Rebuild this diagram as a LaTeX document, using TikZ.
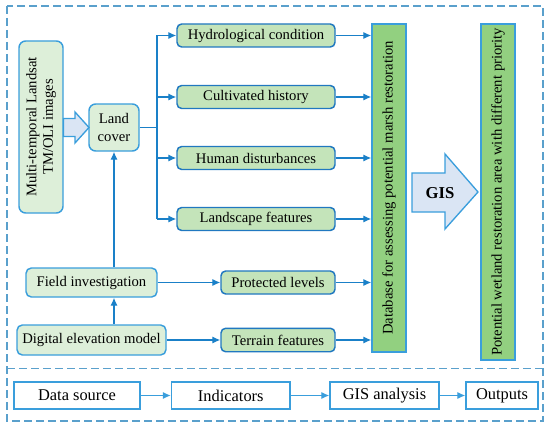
\documentclass[tikz,border=0pt]{standalone}
\usepackage{fontspec}
\setmainfont{Liberation Serif}
\usetikzlibrary{arrows.meta}
\definecolor{bord}{HTML}{2078C0}
\definecolor{lbord}{HTML}{3A9EDC}
\definecolor{lgreen}{HTML}{DDEFD9}
\definecolor{mgreen}{HTML}{C4E4BA}
\definecolor{dgreen}{HTML}{92D080}
\definecolor{ablue}{HTML}{DAE5F4}
\definecolor{dashc}{HTML}{5AA0CC}
\definecolor{conn}{HTML}{1A80C8}
\tikzset{
  srcbox/.style={draw=lbord, fill=lgreen, line width=1.1pt, rounded corners=5pt, inner sep=0pt, align=center, font=\fontsize{11}{13.5}\selectfont},
  indbox/.style={draw=bord, fill=mgreen, line width=1.1pt, rounded corners=3.5pt, inner sep=0pt, font=\fontsize{11}{13}\selectfont},
  tallbox/.style={draw=lbord, fill=dgreen, line width=1.1pt, inner sep=0pt, font=\fontsize{11}{13}\selectfont},
  legbox/.style={draw=lbord, fill=white, line width=1.1pt, inner sep=0pt, minimum height=20.25pt, font=\fontsize{12.3}{14}\selectfont},
  conarrow/.style={draw=conn, line width=0.95pt, -{Latex[length=6pt,width=5.5pt]}},
  conline/.style={draw=conn, line width=0.95pt},
  blockarrow/.style={draw=lbord, fill=ablue, line width=1pt, line join=miter}
}
\begin{document}
\begin{tikzpicture}[x=0.75pt,y=-0.75pt]
\useasboundingbox (0,0) rectangle (550,428);
% outer dashed frame
\draw[dashc, line width=1.1pt, dash pattern=on 6pt off 3pt] (7,6) rectangle (543,421);
\draw[dashc, line width=1.1pt, dash pattern=on 6pt off 3pt] (7,368.5) -- (543,368.5);

% source boxes
\node[srcbox, minimum width=33pt, minimum height=129pt] (multi) at (41,127)
  {\rotatebox{90}{\begin{tabular}{@{}c@{}}Multi-temporal Landsat\\[-1pt]TM/OLI images\end{tabular}}};
\node[srcbox, minimum width=37.5pt, minimum height=35.25pt] (land) at (114,127.5) {Land\\cover};
\node[srcbox, rounded corners=4pt, minimum width=98.25pt, minimum height=21.75pt] (field) at (91.5,282.5) {Field investigation};
\node[srcbox, rounded corners=4pt, minimum width=111.75pt, minimum height=22.5pt] (dem) at (91.5,340) {Digital\ elevation\ model};

% indicator boxes
\node[indbox, minimum width=118.5pt, minimum height=17.25pt] (hydro) at (256,35.5) {Hydrological condition};
\node[indbox, minimum width=118.5pt, minimum height=17.25pt] (cult) at (256,97) {Cultivated history};
\node[indbox, minimum width=118.5pt, minimum height=17.25pt] (human) at (256,158) {Human disturbances};
\node[indbox, minimum width=118.5pt, minimum height=17.25pt] (lands) at (256,219) {Landscape features};
\node[indbox, minimum width=85.5pt, minimum height=17.25pt] (prot) at (278,282.5) {Protected levels};
\node[indbox, minimum width=85.5pt, minimum height=17.6pt] (terr) at (278,340) {Terrain features};

% tall boxes
\node[tallbox, minimum width=25.5pt, minimum height=246pt] (db) at (389,188)
  {\rotatebox{90}{Database for assessing potential marsh restoration}};
\node[tallbox, minimum width=25.5pt, minimum height=252pt] (out) at (498,192)
  {\rotatebox{90}{Potential wetland restoration area with different priority}};

% block arrows
\path[blockarrow] (63.5,118.5) -- (75,118.5) -- (75,112) -- (89,127.5) -- (75,143) -- (75,136.5) -- (63.5,136.5) -- cycle;
\path[blockarrow] (412,173) -- (445,173) -- (445,154) -- (478,192) -- (445,229) -- (445,212) -- (412,212) -- cycle;
\node[font=\fontsize{12.5}{14}\selectfont\bfseries, inner sep=0pt] (gis) at (440,193) {GIS};

% branch connectors
\coordinate (bt) at (157,35.5);
\coordinate (bb) at (157,219);
\draw[conline] (land.east) -- (land.east -| bt);
\draw[conline] (bt) -- (bb);
\draw[conarrow] (bt) -- (hydro.west);
\draw[conarrow] (bt |- cult) -- (cult.west);
\draw[conarrow] (bt |- human) -- (human.west);
\draw[conarrow] (bb) -- (lands.west);

% to database
\draw[conarrow] (hydro.east) -- (hydro.east -| db.west);
\draw[conarrow] (cult.east) -- (cult.east -| db.west);
\draw[conarrow] (human.east) -- (human.east -| db.west);
\draw[conarrow] (lands.east) -- (lands.east -| db.west);
\draw[conarrow] (prot.east) -- (prot.east -| db.west);
\draw[conarrow] (terr.east) -- (terr.east -| db.west);

% field / dem
\draw[conarrow] (field.east) -- (prot.west);
\draw[conarrow] (dem.east) -- (terr.west);
\draw[conarrow] (dem.north -| land) -- (field.south -| land);
\draw[conarrow] (field.north -| land) -- (land.south);

% legend row
\node[legbox, minimum width=94.5pt] (ds) at (77,395.5) {Data source};
\node[legbox, minimum width=88.9pt] (ind) at (230.75,395.5) {Indicators};
\node[legbox, minimum width=81.75pt] (gisa) at (384.5,395.5) {GIS analysis};
\node[legbox, minimum width=54pt] (outs) at (502,395.5) {Outputs};
\draw[conarrow, draw=lbord] (ds) -- (ind);
\draw[conarrow, draw=lbord] (ind) -- (gisa);
\draw[conarrow, draw=lbord] (gisa) -- (outs);
\end{tikzpicture}
\end{document}
